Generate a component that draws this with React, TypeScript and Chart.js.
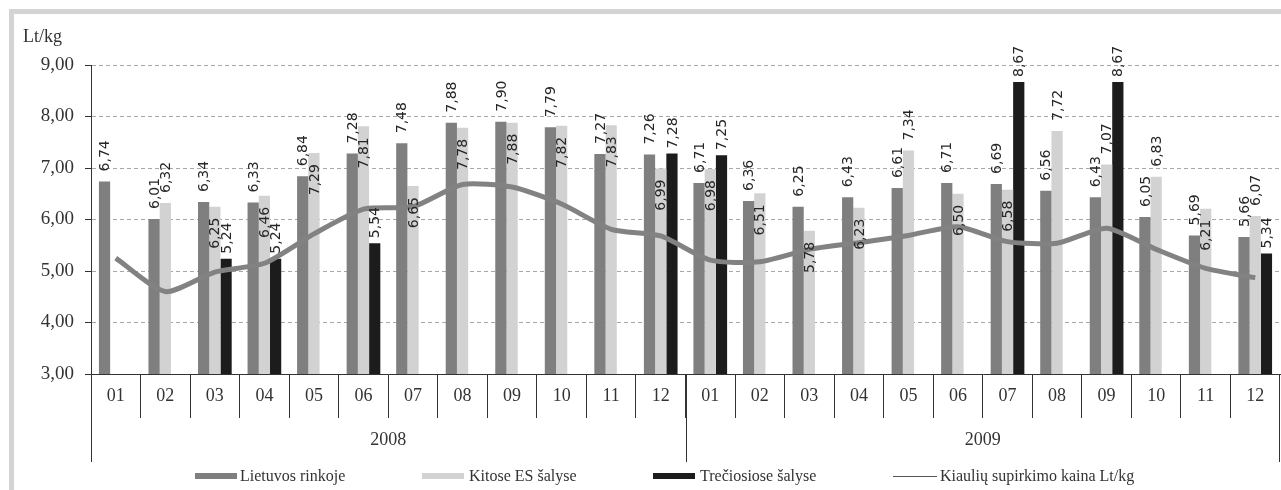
import React, { useEffect, useRef } from "react";
import { Chart, registerables } from "chart.js";
Chart.register(...registerables);

// ---- data ----
const months = ["01","02","03","04","05","06","07","08","09","10","11","12","01","02","03","04","05","06","07","08","09","10","11","12"];
const years = ["2008", "2009"];
const seriesNames = ["Lietuvos rinkoje", "Kitose ES šalyse", "Trečiosiose šalyse", "Kiaulių supirkimo kaina Lt/kg"];
const lietuvos = [6.74, 6.01, 6.34, 6.33, 6.84, 7.28, 7.48, 7.88, 7.90, 7.79, 7.27, 7.26, 6.71, 6.36, 6.25, 6.43, 6.61, 6.71, 6.69, 6.56, 6.43, 6.05, 5.69, 5.66];
const kitosES = [null, 6.32, 6.25, 6.46, 7.29, 7.81, 6.65, 7.78, 7.88, 7.82, 7.83, 6.99, 6.98, 6.51, 5.78, 6.23, 7.34, 6.50, 6.58, 7.72, 7.07, 6.83, 6.21, 6.07];
const treciosios = [null, null, 5.24, 5.24, null, 5.54, null, null, null, null, null, 7.28, 7.25, null, null, null, null, null, 8.67, null, 8.67, null, null, 5.34];
const kaina = [5.25, 4.60, 4.98, 5.15, 5.72, 6.20, 6.25, 6.68, 6.63, 6.30, 5.81, 5.68, 5.21, 5.18, 5.42, 5.55, 5.69, 5.86, 5.57, 5.54, 5.83, 5.42, 5.05, 4.87];
const yMin = 3;
const yMax = 9;
const yStep = 1;
const yTitle = "Lt/kg";

// label placement for the light series (true = above bar, false = inside top)
const lightLabelAbove = [false, true, false, false, false, false, false, false, false, false, false, false, false, false, false, false, true, false, false, true, true, true, false, true];

// ---- styles ----
const DARK = "#7f7f7f";
const LIGHT = "#d2d2d2";
const BLACK = "#1c1c1c";
const LINE = "#828282";
const TEXT = "#333333";
const SERIF = '"Liberation Serif", "Times New Roman", serif';
const fmt = (v: number) => v.toFixed(2).replace(".", ",");

const valueLabels = {
  id: "valueLabels",
  afterDatasetsDraw(chart: any) {
    const ctx = chart.ctx;
    ctx.save();
    ctx.font = '14px "DejaVu Sans", sans-serif';
    ctx.fillStyle = "#262626";
    ctx.textBaseline = "middle";
    [0, 1, 2].forEach((di) => {
      const meta = chart.getDatasetMeta(di);
      const data = chart.data.datasets[di].data;
      meta.data.forEach((el: any, i: number) => {
        const v = data[i];
        if (v == null) return;
        const text = fmt(v);
        const inside = di === 1 && !lightLabelAbove[i];
        const gap = di === 2 ? 5 : 10;
        ctx.save();
        ctx.translate(el.x + 1, el.y);
        ctx.rotate(-Math.PI / 2);
        if (inside) {
          ctx.textAlign = "right";
          ctx.fillText(text, -11, 0);
        } else {
          ctx.textAlign = "left";
          ctx.fillText(text, gap, 0);
        }
        ctx.restore();
      });
    });
    ctx.restore();
  },
};

const decor = {
  id: "decor",
  beforeDraw(chart: any) {
    const ctx = chart.ctx;
    ctx.save();
    ctx.fillStyle = "#ffffff";
    ctx.fillRect(0, 0, chart.width, chart.height);
    ctx.fillStyle = "#d4d4d4";
    ctx.fillRect(9, 9, chart.width - 9, 5);
    ctx.fillRect(9, 9, 5, chart.height - 9);
    ctx.restore();
  },
  afterDraw(chart: any) {
    const ctx = chart.ctx;
    const xs = chart.scales.x;
    const n = months.length;
    const w = (xs.right - xs.left) / n;
    ctx.save();
    // long separators for the year level
    ctx.strokeStyle = TEXT;
    ctx.lineWidth = 1;
    [0, n / 2, n].forEach((k) => {
      const px = Math.round(xs.left + k * w) + (k === n ? -0.5 : 0.5);
      ctx.beginPath();
      ctx.moveTo(px, xs.top);
      ctx.lineTo(px, xs.top + 88);
      ctx.stroke();
    });
    // year labels
    ctx.fillStyle = TEXT;
    ctx.font = "18px " + SERIF;
    ctx.textAlign = "center";
    ctx.textBaseline = "middle";
    years.forEach((yr, j) => {
      const cx = xs.left + (j * (n / 2) + n / 4) * w;
      ctx.fillText(yr, cx, 440);
    });
    // axis title
    ctx.textAlign = "left";
    ctx.font = "18px " + SERIF;
    ctx.fillText(yTitle, 23, 37);
    // legend
    const items = [
      { box: 195, text: 240, color: DARK, line: false },
      { box: 422, text: 469, color: LIGHT, line: false },
      { box: 653, text: 700, color: BLACK, line: false },
      { box: 893, text: 940, color: "#555555", line: true },
    ];
    ctx.font = "16px " + SERIF;
    items.forEach((it, i) => {
      if (it.line) {
        ctx.strokeStyle = it.color;
        ctx.lineWidth = 1;
        ctx.beginPath();
        ctx.moveTo(it.box, 476.5);
        ctx.lineTo(it.box + 44, 476.5);
        ctx.stroke();
      } else {
        ctx.fillStyle = it.color;
        ctx.fillRect(it.box, 473, 42, 6);
      }
      ctx.fillStyle = TEXT;
      ctx.fillText(seriesNames[i], it.text, 477);
    });
    ctx.restore();
  },
};

export default function App() {
  const ref = useRef<HTMLCanvasElement>(null);
  useEffect(() => {
    const chart = new Chart(ref.current!, {
      type: "bar",
      data: {
        labels: months,
        datasets: [
          { type: "bar", label: seriesNames[0], data: lietuvos, backgroundColor: DARK, borderWidth: 0, order: 1, categoryPercentage: 0.68, barPercentage: 1 } as any,
          { type: "bar", label: seriesNames[1], data: kitosES, backgroundColor: LIGHT, borderWidth: 0, order: 1, categoryPercentage: 0.68, barPercentage: 1 } as any,
          { type: "bar", label: seriesNames[2], data: treciosios, backgroundColor: BLACK, borderWidth: 0, order: 1, categoryPercentage: 0.68, barPercentage: 1 } as any,
          { type: "line", label: seriesNames[3], data: kaina, borderColor: LINE, borderWidth: 5, pointRadius: 0, tension: 0.22, fill: false, order: 0 } as any,
        ],
      },
      options: {
        responsive: false,
        animation: false,
        devicePixelRatio: 1,
        layout: { padding: { top: 65, left: 0, right: 1, bottom: 0 } },
        plugins: { legend: { display: false }, tooltip: { enabled: false } },
        scales: {
          x: {
            offset: true,
            grid: { display: true, offset: true, drawOnChartArea: false, drawTicks: true, tickLength: 44, color: TEXT, tickColor: TEXT },
            border: { display: true, color: TEXT, width: 1 },
            ticks: { color: TEXT, font: { family: SERIF, size: 18 }, padding: -33, maxRotation: 0, autoSkip: false },
            afterFit: (s: any) => { s.height = 116; },
          } as any,
          y: {
            min: yMin,
            max: yMax,
            grid: { color: "#a8a8a8", lineWidth: 1, tickLength: 6, tickColor: TEXT, tickBorderDash: [] },
            border: { display: true, color: TEXT, width: 1, dash: [4, 3] },
            ticks: { stepSize: yStep, color: TEXT, font: { family: SERIF, size: 19 }, padding: 11, callback: (v: any) => fmt(Number(v)) },
            afterFit: (s: any) => { s.width = 91; },
          } as any,
        },
      },
      plugins: [decor, valueLabels],
    });
    return () => chart.destroy();
  }, []);
  return (
    <div style={{ position: "absolute", left: 0, top: 0, width: 1281, height: 490, background: "#fff" }}>
      <canvas ref={ref} width={1281} height={490} style={{ display: "block", width: 1281, height: 490 }} />
    </div>
  );
}
